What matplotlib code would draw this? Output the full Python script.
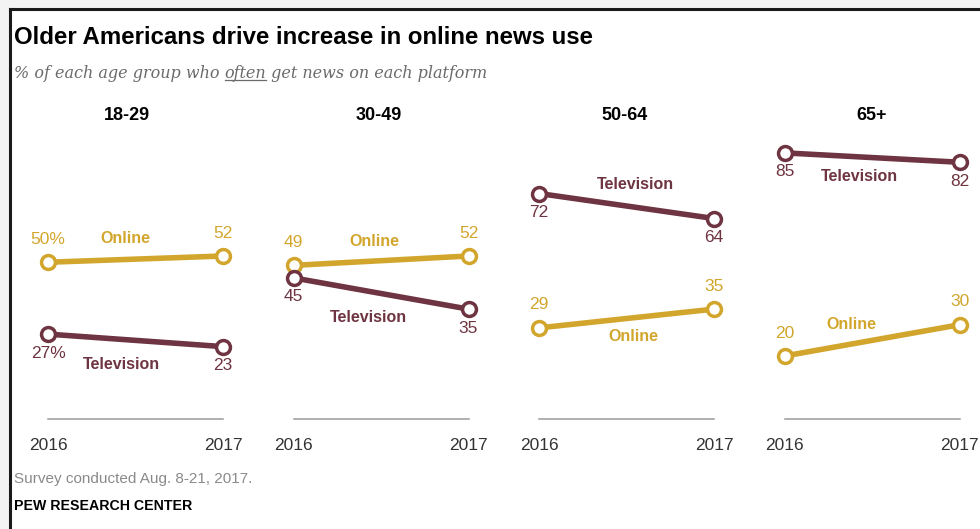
import matplotlib.pyplot as plt
from matplotlib.lines import Line2D
from matplotlib.patches import Rectangle

groups = ['18-29', '30-49', '50-64', '65+']
years = ['2016', '2017']
online = [[50, 52], [49, 52], [29, 35], [20, 30]]
television = [[27, 23], [45, 35], [72, 64], [85, 82]]

# where the series names sit inside each panel (x as fraction, y in %)
online_name_pos = [(0.44, 57.5), (0.46, 56.8), (0.54, 26.1), (0.38, 30.0)]
tv_name_pos = [(0.42, 17.3), (0.43, 32.3), (0.55, 74.8), (0.43, 77.4)]
title_x = [0.45, 0.49, 0.49, 0.5]

GOLD = '#D2A62C'
MAROON = '#6E3441'
W, H = 980, 529

plt.rcParams['font.family'] = ['Liberation Sans', 'DejaVu Sans']

fig = plt.figure(figsize=(W / 100, H / 100), dpi=100)
fig.patch.set_facecolor('#f3f3f3')
fig.add_artist(Rectangle((10 / W, 0), 1, 1 - 9 / H, transform=fig.transFigure,
                         facecolor='white', edgecolor='none', zorder=0))
fig.add_artist(Line2D([10 / W, 10 / W], [0, 1 - 9 / H], transform=fig.transFigure,
                      color='#1a1a1a', lw=2.2))
fig.add_artist(Line2D([10 / W, 1], [1 - 9 / H, 1 - 9 / H], transform=fig.transFigure,
                      color='#1a1a1a', lw=2.2))


def px(x, y):
    return x / W, 1 - y / H


fig.text(*px(14, 38), 'Older Americans drive increase in online news use',
         fontsize=17.3, fontweight='bold', va='center', ha='left', color='black')

# subtitle with underlined "often"
fig.canvas.draw()
r = fig.canvas.get_renderer()
sub_kw = dict(fontsize=11.5, style='italic', family='DejaVu Serif', color='#6a6a6a',
              va='center', ha='left')
sx, sy = px(14, 73)
t1 = fig.text(sx, sy, '% of each age group who ', **sub_kw)
b1 = t1.get_window_extent(renderer=r)
t2 = fig.text(b1.x1 / W, sy, 'often', **sub_kw)
b2 = t2.get_window_extent(renderer=r)
fig.text(b2.x1 / W, sy, ' get news on each platform', **sub_kw)
uy = (b2.y0 + 1.5) / H
fig.add_artist(Line2D([b2.x0 / W, b2.x1 / W], [uy, uy], transform=fig.transFigure,
                      color='#6a6a6a', lw=0.9))

ax_bottom = 1 - 418.5 / H
ax_height = (418.5 - 106) / H

for i, g in enumerate(groups):
    left = 48 + 245.5 * i
    ax = fig.add_axes([left / W, ax_bottom, 175 / W, ax_height])
    ax.set_xlim(0, 1)
    ax.set_ylim(0, 100)
    for s in ['top', 'right', 'left']:
        ax.spines[s].set_visible(False)
    ax.spines['bottom'].set_color('#9a9a9a')
    ax.spines['bottom'].set_linewidth(1.1)
    ax.set_yticks([])
    ax.set_xticks([0, 1])
    ax.set_xticklabels(years, fontsize=12.5, color='#333333')
    ax.tick_params(axis='x', length=0, pad=14)
    ax.patch.set_alpha(0)

    ax.text(title_x[i], 97, g, ha='center', va='center', fontsize=13,
            fontweight='bold', family=['Liberation Sans Narrow', 'Liberation Sans'])

    for vals, color, above, name, pos in [
        (online[i], GOLD, True, 'Online', online_name_pos[i]),
        (television[i], MAROON, False, 'Television', tv_name_pos[i]),
    ]:
        ax.plot([0, 1], vals, color=color, lw=4, marker='o', ms=10,
                mfc='white', mec=color, mew=2.5, clip_on=False, zorder=3)
        for j, v in enumerate(vals):
            lab = f'{v}%' if (i == 0 and j == 0) else str(v)
            dy = 23 if above else -19
            ax.annotate(lab, (j, v), xytext=(0, dy), textcoords='offset pixels',
                        ha='center', va='center', fontsize=12.5, color=color)
        ax.text(pos[0], pos[1], name, ha='center', va='center', fontsize=11.5,
                fontweight='bold', color=color)

fig.text(*px(14, 479), 'Survey conducted Aug. 8-21, 2017.', fontsize=11,
         color='#8a8a8a', va='center', ha='left')
fig.text(*px(14, 506), 'PEW RESEARCH CENTER', fontsize=10.2, fontweight='bold',
         color='black', va='center', ha='left')

fig.savefig('out.png', dpi=100, facecolor=fig.get_facecolor())
